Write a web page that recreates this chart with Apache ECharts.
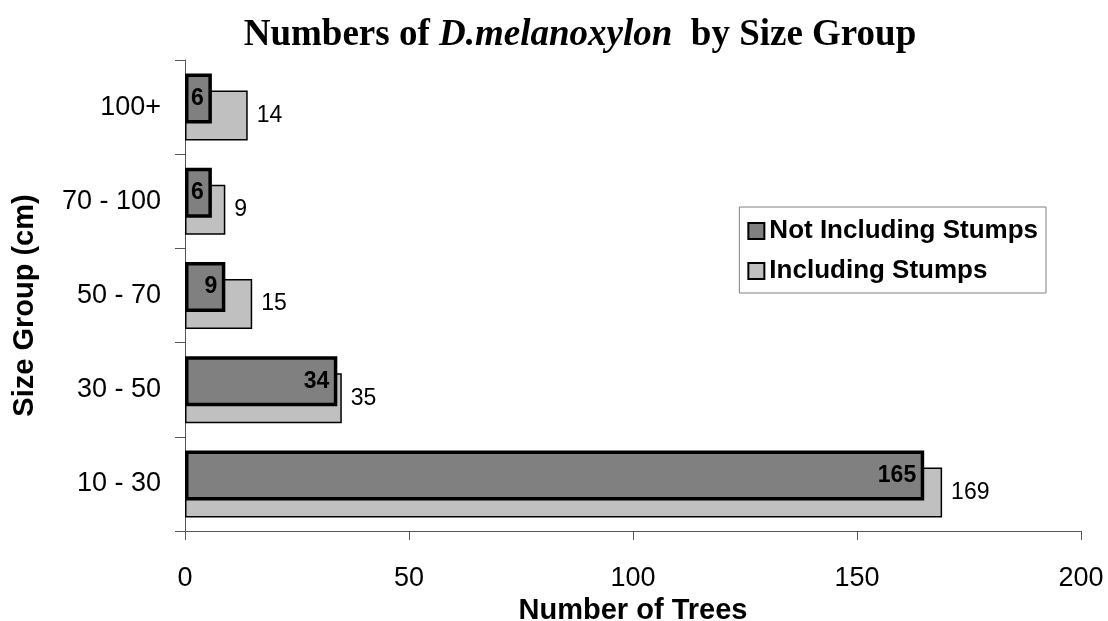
<!DOCTYPE html>
<html>
<head>
<meta charset="utf-8">
<script src="https://cdn.jsdelivr.net/npm/echarts@6/dist/echarts.min.js"></script>
<style>
html,body{margin:0;padding:0;background:#fff;}
#chart{width:1108px;height:621px;}
</style>
</head>
<body>
<div id="chart"></div>
<script>
const categories = ['10 - 30', '30 - 50', '50 - 70', '70 - 100', '100+'];
const notIncludingStumps = [165, 34, 9, 6, 6];
const includingStumps = [169, 35, 15, 9, 14];
const xTicks = [0, 50, 100, 150, 200];
const seriesNames = ['Not Including Stumps', 'Including Stumps'];

const SANS = "'Liberation Sans', Arial, sans-serif";
const SERIF = "'Liberation Serif', 'Times New Roman', serif";

const chart = echarts.init(document.getElementById('chart'));
chart.setOption({
  backgroundColor: '#ffffff',
  animation: false,
  title: {
    text: '{a|Numbers of }{b|D.melanoxylon}{a|  by Size Group}',
    left: 575,
    textAlign: 'center',
    top: 12,
    textStyle: {
      rich: {
        a: { fontFamily: SERIF, fontWeight: 'bold', fontSize: 37, color: '#000' },
        b: { fontFamily: SERIF, fontWeight: 'bold', fontStyle: 'italic', fontSize: 37, color: '#000' }
      }
    }
  },
  legend: {
    data: seriesNames,
    orient: 'vertical',
    right: 62,
    top: 207,
    padding: [11, 8, 9, 8],
    itemGap: 14,
    itemWidth: 16,
    itemHeight: 16,
    icon: 'rect',
    borderColor: '#808080',
    borderWidth: 1,
    backgroundColor: '#fff',
    textStyle: { fontFamily: SANS, fontWeight: 'bold', fontSize: 26, color: '#000' }
  },
  grid: { left: 185, right: 27, top: 60, bottom: 90, containLabel: false, outerBoundsMode: 'none' },
  xAxis: {
    type: 'value',
    min: xTicks[0],
    max: xTicks[xTicks.length - 1],
    interval: 50,
    name: 'Number of Trees',
    nameLocation: 'middle',
    nameGap: 64,
    nameTextStyle: { fontFamily: SANS, fontWeight: 'bold', fontSize: 29, color: '#000' },
    axisLine: { show: true, lineStyle: { color: '#555', width: 1 } },
    axisTick: { show: true, length: 9, lineStyle: { color: '#555', width: 1 } },
    axisLabel: { fontFamily: SANS, fontSize: 27, color: '#000', margin: 34 },
    splitLine: { show: false }
  },
  yAxis: {
    type: 'category',
    data: categories,
    name: 'Size Group (cm)',
    nameLocation: 'middle',
    nameGap: 146,
    nameTextStyle: { fontFamily: SANS, fontWeight: 'bold', fontSize: 29, color: '#000', padding: [0, 20, 0, 0] },
    axisLine: { show: true, lineStyle: { color: '#555', width: 1 } },
    axisTick: { show: true, length: 10, lineStyle: { color: '#555', width: 1 } },
    axisLabel: { fontFamily: SANS, fontSize: 27, color: '#000', margin: 24 }
  },
  series: [
    {
      name: seriesNames[0],
      type: 'bar',
      data: notIncludingStumps,
      barWidth: 50,
      barGap: '-66%',
      z: 3,
      itemStyle: { color: '#808080', borderColor: '#000', borderWidth: 3.5 },
      label: {
        show: true, position: 'insideRight', distance: 8,
        fontFamily: SANS, fontWeight: 'bold', fontSize: 23, color: '#000'
      }
    },
    {
      name: seriesNames[1],
      type: 'bar',
      data: includingStumps,
      barWidth: 50,
      z: 2,
      itemStyle: { color: '#c0c0c0', borderColor: '#000', borderWidth: 1.5 },
      label: {
        show: true, position: 'right', distance: 9,
        fontFamily: SANS, fontSize: 23, color: '#000'
      }
    }
  ]
});
</script>
</body>
</html>
